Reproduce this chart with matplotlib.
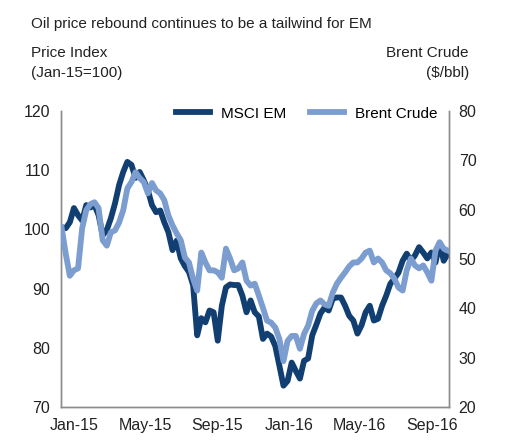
import pandas as pd
import matplotlib.pyplot as plt
from matplotlib import font_manager

# weekly readings, Jan-2015 .. Oct-2016
dates = pd.date_range('2015-01-02', periods=96, freq='7D')

msci_em = [
    100.3, 100.2, 101.2, 103.6, 102.4, 101.5, 104.1, 103.7, 104.1, 102.4,
    99.0, 99.9, 101.9, 104.4, 107.5, 109.7, 111.4, 110.9, 108.7, 109.7,
    108.3, 106.6, 104.1, 102.9, 103.2, 101.2, 99.5, 96.5, 98.1, 95.1,
    93.8, 92.8, 90.6, 82.1, 85.0, 84.3, 86.3, 86.0, 81.2, 87.1,
    90.2, 90.7, 90.6, 90.6, 88.8, 86.0, 88.0, 86.0, 85.3, 81.5,
    82.4, 81.9, 80.3, 77.0, 73.6, 74.4, 77.5, 76.1, 74.8, 77.8,
    78.2, 82.1, 83.9, 85.8, 86.8, 86.3, 88.3, 88.5, 88.5, 87.1,
    85.4, 84.6, 82.4, 83.8, 86.0, 87.1, 84.6, 84.9, 87.1, 88.8,
    90.8, 91.7, 92.7, 94.7, 95.9, 94.7, 95.6, 97.0, 96.1, 95.1,
    96.1, 94.4, 97.7, 94.7, 95.9, 96.3,
]

brent = [
    56.4, 51.1, 46.6, 47.7, 48.1, 56.2, 59.9, 61.1, 61.5, 60.3,
    53.8, 52.7, 55.4, 55.8, 57.4, 59.9, 64.3, 65.6, 67.6, 66.4,
    65.6, 63.3, 65.4, 63.9, 63.3, 61.9, 58.8, 56.8, 55.2, 53.8,
    50.3, 49.3, 46.0, 43.6, 51.3, 49.3, 47.7, 47.7, 47.3, 46.2,
    52.1, 50.1, 47.7, 48.1, 49.3, 45.6, 44.6, 45.0, 42.6, 40.1,
    37.5, 37.1, 36.1, 33.8, 29.3, 33.4, 34.4, 34.4, 31.8, 34.8,
    36.5, 39.5, 41.0, 41.6, 40.8, 40.5, 43.2, 45.0, 46.2, 47.3,
    48.5, 49.3, 49.3, 50.1, 51.3, 51.7, 49.3, 50.1, 49.3, 47.7,
    47.1, 46.0, 44.2, 43.6, 47.7, 50.1, 48.7, 48.1, 48.7, 47.3,
    45.6, 51.7, 53.4, 52.1, 51.7, 51.3,
]

tick_dates = ['2015-01-24', '2015-05-24', '2015-09-24', '2016-01-24', '2016-05-24', '2016-09-24']
tick_labels = ['Jan-15', 'May-15', 'Sep-15', 'Jan-16', 'May-16', 'Sep-16']

names = {f.name for f in font_manager.fontManager.ttflist}
fam = 'Liberation Sans Narrow' if 'Liberation Sans Narrow' in names else 'Liberation Sans'
plt.rcParams['font.family'] = [fam, 'DejaVu Sans']

dark = '#123f72'
light = '#7c9dcf'
grey = '#8c8c8c'
txt = '#222222'

fig = plt.figure(figsize=(5.21, 4.45), dpi=100)
ax = fig.add_axes([0.1171, 0.0854, 0.7447, 0.6652])
ax2 = ax.twinx()

ax.plot(dates, msci_em, color=dark, lw=4.2, solid_joinstyle='round', label='MSCI EM', zorder=2)
ax2.plot(dates, brent, color=light, lw=4.2, solid_joinstyle='round', label='Brent Crude', zorder=3)

ax.set_ylim(70, 120)
ax2.set_ylim(20, 80)
ax.set_yticks(range(70, 121, 10))
ax2.set_yticks(range(20, 81, 10))
ax.set_xlim(pd.Timestamp('2015-01-01'), pd.Timestamp('2016-10-23'))
ax.set_xticks(pd.to_datetime(tick_dates))
ax.set_xticklabels(tick_labels)

for a in (ax, ax2):
    a.spines['top'].set_visible(False)
    for s in ('left', 'right', 'bottom'):
        a.spines[s].set_color(grey)
        a.spines[s].set_linewidth(1)
    a.tick_params(length=0, labelsize=11.5, colors=txt)
ax.tick_params(axis='y', pad=8)
ax2.tick_params(axis='y', pad=7)
ax.tick_params(axis='x', pad=8)

h1, l1 = ax.get_legend_handles_labels()
h2, l2 = ax2.get_legend_handles_labels()
leg = ax2.legend(h1 + h2, l1 + l2, loc='upper right', ncol=2, frameon=False,
                 fontsize=11, handlelength=2.2, columnspacing=1.6, handletextpad=0.7,
                 bbox_to_anchor=(0.985, 1.035), borderaxespad=0)

fig.text(0.06, 0.945, 'Oil price rebound continues to be a tailwind for EM', fontsize=11, va='center', color=txt)
fig.text(0.06, 0.88, 'Price Index', fontsize=11, va='center', color=txt)
fig.text(0.06, 0.835, '(Jan-15=100)', fontsize=11, va='center', color=txt)
fig.text(0.90, 0.88, 'Brent Crude', fontsize=11, va='center', ha='right', color=txt)
fig.text(0.90, 0.835, '($/bbl)', fontsize=11, va='center', ha='right', color=txt)

fig.savefig('out.png', dpi=100)
